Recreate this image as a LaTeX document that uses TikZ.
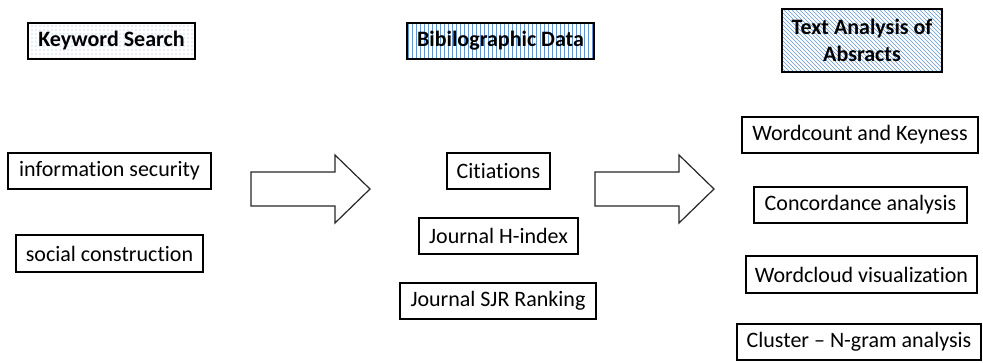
\documentclass[tikz,border=0pt]{standalone}
\usepackage{fontspec}
\setmainfont{Carlito}[Ligatures={NoCommon,NoContextual}]
\usetikzlibrary{patterns}
\definecolor{dotblue}{RGB}{140,185,230}
\definecolor{lineblue}{RGB}{95,150,210}
\begin{document}
\begin{tikzpicture}[x=0.75pt,y=-0.75pt,
  box/.style={draw=black, line width=1.1pt, inner sep=0pt, minimum height=27pt,
    font=\fontsize{16.5}{19.8}\selectfont, text=black},
  head/.style={box, line width=1.4pt, font=\fontsize{16.5}{19.8}\selectfont\bfseries},
  bigarrow/.style={draw=black!85, line width=0.9pt, fill=white, line join=miter}]
\useasboundingbox (0,0) rectangle (983,362);
% headers
\node[head, minimum width=125.25pt, pattern=dots, pattern color=dotblue] (kw) at (111.5,41) {Keyword Search};
\node[head, minimum width=140.25pt, pattern=vertical lines, pattern color=lineblue] (bib) at (500.5,41) {Bibilographic Data};
\node[head, minimum width=120pt, minimum height=47.25pt, align=center, pattern=north west lines, pattern color=lineblue] (txt) at (862,40.5) {Text Analysis of\\Absracts};
% left column
\node[box, minimum width=152.25pt] (info) at (109.5,171) {information security};
\node[box, minimum width=140.25pt, minimum height=27.75pt] (social) at (109.5,253.5) {social construction};
% middle column
\node[box, minimum width=77.25pt] (cit) at (498.5,171) {Citiations};
\node[box, minimum width=119.25pt] (hidx) at (498.5,236) {Journal H-index};
\node[box, minimum width=147pt] (sjr) at (498,301) {Journal SJR Ranking};
% right column
\node[box, minimum width=177pt] (wc) at (860,135) {Wordcount and Keyness};
\node[box, minimum width=159.75pt] (conc) at (860.5,205) {Concordance analysis};
\node[box, minimum width=173.25pt, minimum height=27.75pt] (wcl) at (861.5,274.5) {Wordcloud visualization};
\node[box, minimum width=183pt] (clu) at (859,342) {Cluster -- N-gram analysis};
% block arrows
\draw[bigarrow] (251,172) -- (335,172) -- (335,155) -- (370,189) -- (335,223) -- (335,206) -- (251,206) -- cycle;
\draw[bigarrow] (595,172) -- (679,172) -- (679,155) -- (714,189) -- (679,223) -- (679,206) -- (595,206) -- cycle;
\end{tikzpicture}
\end{document}
